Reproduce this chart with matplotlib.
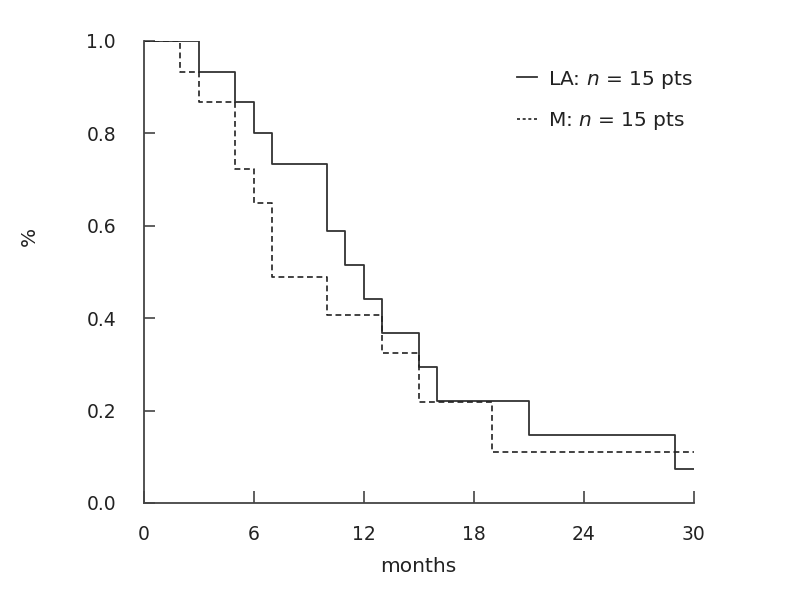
import numpy as np
import matplotlib
matplotlib.use('Agg')
import matplotlib.pyplot as plt

# Kaplan-Meier steps (months, fraction surviving)
la_t = [0, 3, 5, 6, 7, 10, 11, 12, 13, 15, 16, 21, 29, 30]
la_s = [1.0, 0.933, 0.867, 0.8, 0.733, 0.589, 0.515, 0.441, 0.368, 0.294, 0.221, 0.147, 0.074, 0.074]
m_t = [0, 2, 3, 5, 6, 7, 10, 13, 15, 19, 30]
m_s = [1.0, 0.933, 0.867, 0.722, 0.650, 0.488, 0.407, 0.325, 0.219, 0.110, 0.110]

la_label = r'LA: $n$ = 15 pts'
m_label = r'M: $n$ = 15 pts'
xticks = [0, 6, 12, 18, 24, 30]
yticks = [0.0, 0.2, 0.4, 0.6, 0.8, 1.0]

plt.rcParams['font.family'] = ['DejaVu Sans']
plt.rcParams['mathtext.fontset'] = 'dejavusans'

fig = plt.figure(figsize=(7.90, 5.91), dpi=100, facecolor='white')
ax = fig.add_axes([0.182, 0.149, 0.696, 0.782])

ax.step(la_t, la_s, where='post', c='#333333', lw=1.3, label=la_label)
ax.step(m_t, m_s, where='post', c='#222222', lw=1.2, ls=(0, (3.5, 2.2)), label=m_label)

ax.set_xlim(0, 30)
ax.set_ylim(0, 1.0)
ax.set_xticks(xticks)
ax.set_yticks(yticks)
ax.set_yticklabels(['%.1f' % v for v in yticks])

for s in ['top', 'right']:
    ax.spines[s].set_visible(False)
for s in ['left', 'bottom']:
    ax.spines[s].set_color('#444444')
    ax.spines[s].set_linewidth(1.3)

ax.tick_params(axis='x', direction='in', length=9, width=1.2, color='#444444',
               pad=16, labelsize=13.5, labelcolor='#222222')
ax.tick_params(axis='y', direction='in', length=8, width=1.2, color='#444444',
               pad=20, labelsize=13.5, labelcolor='#222222')

ax.set_xlabel('months', fontsize=14.5, color='#222222', labelpad=9)
ax.set_ylabel('%', fontsize=14.5, color='#222222')
ax.yaxis.set_label_coords(-0.19, 0.576)

leg = ax.legend(loc='upper left', bbox_to_anchor=(0.678, 0.94), frameon=False,
                fontsize=14.5, handlelength=1.0, handletextpad=0.55,
                labelspacing=0.95, borderpad=0, borderaxespad=0)
for t in leg.get_texts():
    t.set_color('#222222')
leg.get_lines()[1].set_dashes((1.8, 1.6))

plt.savefig('out.png', dpi=100, facecolor='white')
